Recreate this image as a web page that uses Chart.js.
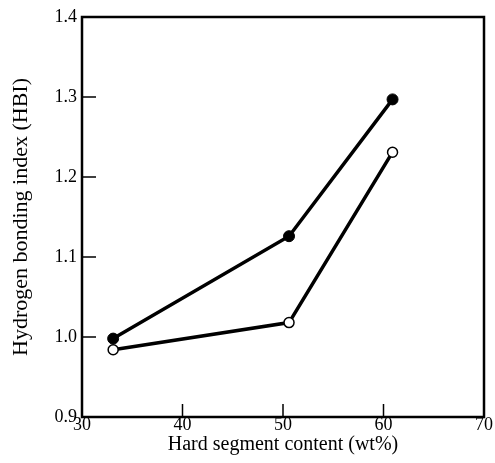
<!DOCTYPE html>
<html>
<head>
<meta charset="utf-8">
<script src="https://cdn.jsdelivr.net/npm/chart.js@4.4.1/dist/chart.umd.min.js"></script>
<style>
  html, body { margin: 0; padding: 0; background: #fff; }
  #wrap { width: 495px; height: 463px; }
</style>
</head>
<body>
<div id="wrap"><canvas id="hbiChart" width="495" height="463"></canvas></div>
<script>
// values
const hardSegment = [33.1, 50.6, 60.9];
const hbiFilled = [0.998, 1.126, 1.297];
const hbiOpen = [0.984, 1.018, 1.231];
const xTicks = [30, 40, 50, 60, 70];
const yTicks = [0.9, 1.0, 1.1, 1.2, 1.3, 1.4];

const serif = "'Liberation Serif', 'DejaVu Serif', serif";

// frame + inward tick marks, like the printed figure
const framePlugin = {
    id: "frame",
    afterDraw(chart) {
        const ctx = chart.ctx;
        const a = chart.chartArea;
        const xs = chart.scales.x, ys = chart.scales.y;
        ctx.save();
        ctx.strokeStyle = "#000";
        ctx.lineWidth = 2.5;
        ctx.strokeRect(a.left, a.top, a.right - a.left, a.bottom - a.top);
        ctx.lineWidth = 1.5;
        ctx.beginPath();
        xTicks.slice(1, -1).forEach(v => {
            const px = xs.getPixelForValue(v);
            ctx.moveTo(px, a.bottom);
            ctx.lineTo(px, a.bottom - 13);
        });
        yTicks.slice(1, -1).forEach(v => {
            const py = ys.getPixelForValue(v);
            ctx.moveTo(a.left, py);
            ctx.lineTo(a.left + 14, py);
        });
        ctx.stroke();
        ctx.restore();
    }
};

const ctx = document.getElementById("hbiChart").getContext("2d");
new Chart(ctx, {
    type: "line",
    data: {
        datasets: [{
            label: "filled",
            data: hardSegment.map((x, i) => ({ x: x, y: hbiFilled[i] })),
            borderColor: "#000",
            borderWidth: 3.5,
            backgroundColor: "#000",
            pointBackgroundColor: "#000",
            pointBorderColor: "#000",
            pointRadius: 5.5,
            pointBorderWidth: 1,
            fill: false
        }, {
            label: "open",
            data: hardSegment.map((x, i) => ({ x: x, y: hbiOpen[i] })),
            borderColor: "#000",
            borderWidth: 3.5,
            pointBackgroundColor: "#fff",
            pointBorderColor: "#000",
            pointRadius: 5,
            pointBorderWidth: 1.5,
            fill: false
        }]
    },
    options: {
        responsive: false,
        animation: false,
        layout: { padding: { top: 17, right: 11, bottom: 0, left: 0 } },
        plugins: {
            legend: { display: false },
            tooltip: { enabled: false }
        },
        scales: {
            x: {
                type: "linear",
                min: 30,
                max: 70,
                afterBuildTicks: s => { s.ticks = xTicks.map(v => ({ value: v })); },
                afterFit: s => { s.height = 46; },
                grid: { display: false, drawTicks: false },
                border: { display: false },
                ticks: {
                    color: "#000",
                    padding: -3,
                    maxRotation: 0,
                    font: { family: serif, size: 18 }
                },
                title: {
                    display: true,
                    text: "Hard segment content (wt%)",
                    color: "#000",
                    padding: { top: 0, bottom: 6 },
                    font: { family: serif, size: 20 }
                }
            },
            y: {
                min: 0.9,
                max: 1.4,
                afterBuildTicks: s => { s.ticks = yTicks.map(v => ({ value: v })); },
                afterFit: s => { s.width = 82; },
                grid: { display: false, drawTicks: false },
                border: { display: false },
                ticks: {
                    color: "#000",
                    padding: 5,
                    font: { family: serif, size: 18 },
                    callback: v => v.toFixed(1)
                },
                title: {
                    display: true,
                    text: "Hydrogen bonding index (HBI)",
                    color: "#000",
                    padding: { top: 8, bottom: 0 },
                    font: { family: serif, size: 22 }
                }
            }
        }
    },
    plugins: [framePlugin]
});
</script>
</body>
</html>
